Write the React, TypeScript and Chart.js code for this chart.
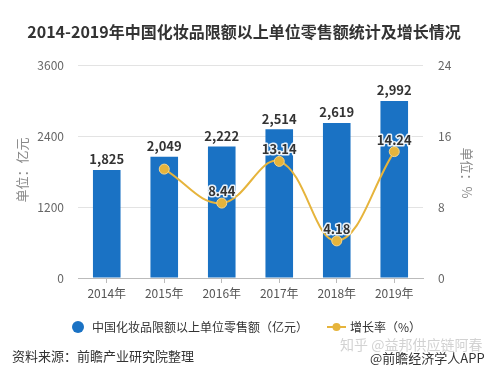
import React, { useEffect, useRef } from "react";
import { Chart, registerables } from "chart.js";

Chart.register(...registerables);

const TITLE = "2014-2019年中国化妆品限额以上单位零售额统计及增长情况";
const categories = ["2014年", "2015年", "2016年", "2017年", "2018年", "2019年"];
const salesValues = [1825, 2049, 2222, 2514, 2619, 2992];
const growthValues: (number | null)[] = [null, 12.27, 8.44, 13.14, 4.18, 14.24];
const growthLabelShown = [false, false, true, true, true, true];
const leftTicks = [0, 1200, 2400, 3600];
const rightTicks = [0, 8, 16, 24];
const salesName = "中国化妆品限额以上单位零售额（亿元）";
const growthName = "增长率（%）";
const leftAxisTitle = "单位：亿元";
const rightAxisTitle = "单位：%";
const sourceText = "资料来源：前瞻产业研究院整理";
const creditText = "@前瞻经济学人APP";
const watermarkText = "知乎 @益邦供应链阿春";

const FONT = '"Noto Sans CJK SC", "Noto Sans", sans-serif';
const BAR = "#1a72c4";
const GOLD = "#e6b43c";

const fmt = (v: number) => v.toLocaleString("en-US");

const overlay = {
  id: "overlay",
  afterDatasetsDraw(chart: any) {
    const ctx = chart.ctx as CanvasRenderingContext2D;
    ctx.save();
    const barMeta = chart.getDatasetMeta(0);
    ctx.font = `bold 13px ${FONT}`;
    ctx.fillStyle = "#333";
    ctx.textAlign = "center";
    ctx.textBaseline = "bottom";
    barMeta.data.forEach((el: any, i: number) => {
      ctx.fillText(fmt(salesValues[i]), el.x, el.y - 4);
    });
    const lineMeta = chart.getDatasetMeta(1);
    ctx.font = `bold 13px ${FONT}`;
    ctx.textBaseline = "middle";
    ctx.lineJoin = "round";
    lineMeta.data.forEach((el: any, i: number) => {
      const v = growthValues[i];
      if (v == null || !growthLabelShown[i]) return;
      const y = el.y - 12;
      ctx.strokeStyle = "rgba(255,255,255,0.9)";
      ctx.lineWidth = 3;
      ctx.strokeText(v.toFixed(2), el.x, y);
      ctx.fillStyle = "#333";
      ctx.fillText(v.toFixed(2), el.x, y);
    });
    ctx.restore();
  },
  afterDraw(chart: any) {
    const ctx = chart.ctx as CanvasRenderingContext2D;
    ctx.save();
    ctx.font = `bold 16px ${FONT}`;
    ctx.fillStyle = "#333";
    ctx.textAlign = "center";
    ctx.textBaseline = "middle";
    ctx.fillText(TITLE, 244, 32);
    ctx.font = `13px ${FONT}`;
    ctx.fillStyle = "#888";
    ctx.save();
    ctx.translate(22, 170);
    ctx.rotate(-Math.PI / 2);
    ctx.fillText(leftAxisTitle, 0, 0);
    ctx.restore();
    ctx.save();
    ctx.translate(467, 173);
    ctx.rotate(Math.PI / 2);
    ctx.fillText(rightAxisTitle, 0, 0);
    ctx.restore();
    ctx.fillStyle = BAR;
    ctx.beginPath();
    ctx.arc(78, 327, 6, 0, Math.PI * 2);
    ctx.fill();
    ctx.fillStyle = "#333";
    ctx.textAlign = "left";
    ctx.font = `12px ${FONT}`;
    ctx.fillText(salesName, 92, 327);
    ctx.strokeStyle = GOLD;
    ctx.lineWidth = 2;
    ctx.beginPath();
    ctx.moveTo(327, 327);
    ctx.lineTo(346, 327);
    ctx.stroke();
    ctx.fillStyle = GOLD;
    ctx.beginPath();
    ctx.arc(336.5, 327, 4, 0, Math.PI * 2);
    ctx.fill();
    ctx.fillStyle = "#333";
    ctx.fillText(growthName, 350, 327);
    ctx.font = `14px ${FONT}`;
    ctx.fillStyle = "rgba(180,180,180,0.6)";
    ctx.fillText(watermarkText, 340, 345);
    ctx.font = `13px ${FONT}`;
    ctx.fillStyle = "#333";
    ctx.fillText(sourceText, 12, 356);
    ctx.fillText(creditText, 370, 358);
    ctx.restore();
  },
};

export default function App() {
  const ref = useRef<HTMLCanvasElement>(null);
  useEffect(() => {
    document.body.style.margin = "0";
    const chart = new Chart(ref.current!, {
      type: "bar",
      data: {
        labels: categories,
        datasets: [
          {
            type: "bar",
            label: salesName,
            data: salesValues,
            backgroundColor: BAR,
            yAxisID: "y",
            barPercentage: 0.48,
            categoryPercentage: 1,
            order: 2,
          },
          {
            type: "line",
            label: growthName,
            data: growthValues,
            borderColor: GOLD,
            borderWidth: 2,
            backgroundColor: GOLD,
            pointBackgroundColor: GOLD,
            pointBorderColor: "#f3d58c",
            pointBorderWidth: 1,
            pointRadius: 5,
            tension: 0.4,
            yAxisID: "y1",
            order: 1,
          },
        ],
      },
      options: {
        responsive: false,
        animation: false,
        layout: { padding: { top: 65, left: 0, right: 0, bottom: 0 } },
        plugins: { legend: { display: false }, title: { display: false }, tooltip: { enabled: false } },
        scales: {
          x: {
            afterFit: (s: any) => {
              s.height = 93;
            },
            grid: { offset: false, drawOnChartArea: false, drawTicks: true, tickLength: 5, color: "#bbb" },
            border: { display: true, color: "#bbb" },
            ticks: { color: "#555", font: { size: 12, family: FONT }, padding: 3 },
          },
          y: {
            position: "left",
            min: 0,
            max: 3600,
            afterFit: (s: any) => {
              s.width = 78;
            },
            afterBuildTicks: (s: any) => {
              s.ticks = leftTicks.map((v) => ({ value: v }));
            },
            grid: { color: "#e3e3e3", drawTicks: false },
            border: { display: false },
            ticks: { color: "#666", font: { size: 12, family: FONT }, padding: 14, callback: (v: any) => String(v) },
          },
          y1: {
            position: "right",
            min: 0,
            max: 24,
            afterFit: (s: any) => {
              s.width = 77;
            },
            afterBuildTicks: (s: any) => {
              s.ticks = rightTicks.map((v) => ({ value: v }));
            },
            grid: { drawOnChartArea: false, drawTicks: false },
            border: { display: false },
            ticks: { color: "#666", font: { size: 12, family: FONT }, padding: 15, callback: (v: any) => String(v) },
          },
        },
      },
      plugins: [overlay],
    });
    return () => chart.destroy();
  }, []);
  return (
    <div style={{ position: "relative", width: 500, height: 371, background: "#fff" }}>
      <canvas ref={ref} width={500} height={371} />
    </div>
  );
}
